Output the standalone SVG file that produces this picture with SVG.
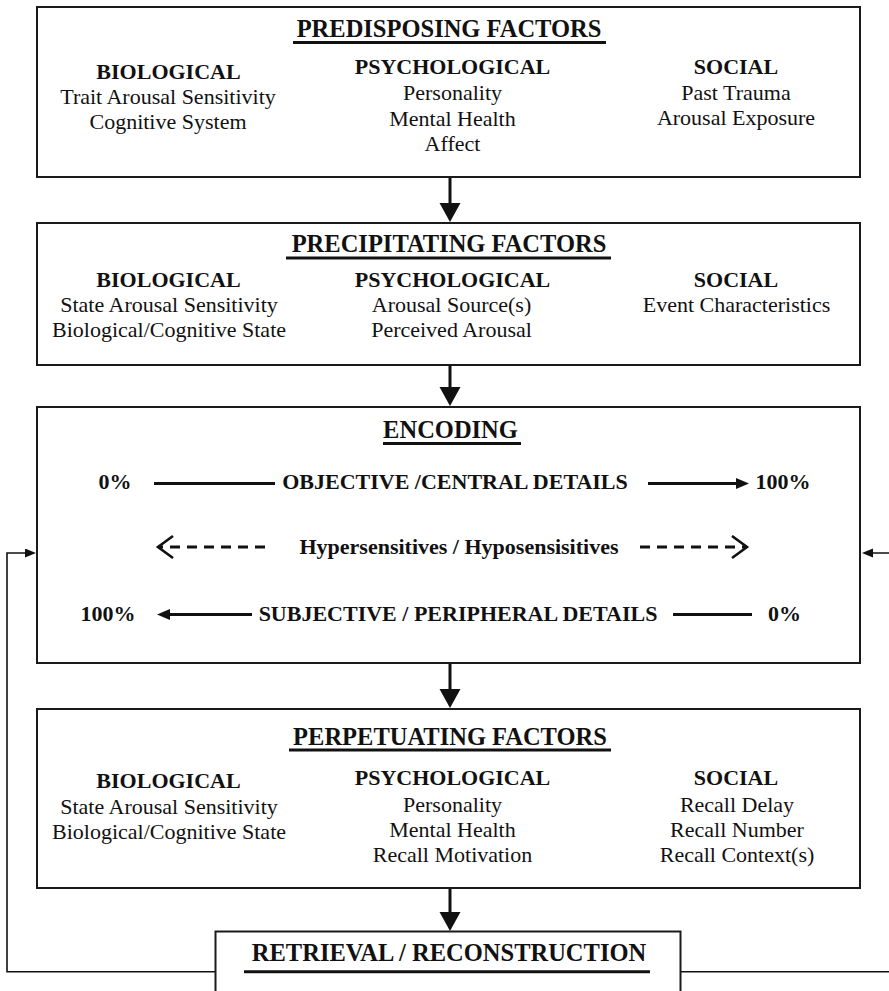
<svg xmlns="http://www.w3.org/2000/svg" width="889" height="991" viewBox="0 0 889 991">
<style>
.box{fill:#fff;stroke:#1a1a1a;stroke-width:2}
.t{font-family:"Liberation Serif","Times New Roman",serif;fill:#111;text-anchor:middle}
.title{font-size:24.5px;font-weight:bold}
.hd{font-size:22px;font-weight:bold}
.it{font-size:22px}
.ul{stroke:#111;stroke-width:3}
.conn{stroke:#111;stroke-width:3;fill:none}
.thin{stroke:#111;stroke-width:3;fill:none}
.dash{stroke:#111;stroke-width:3;fill:none;stroke-dasharray:10 7}
.fb{stroke:#111;stroke-width:1.6;fill:none}
</style>
<defs>
<marker id="big" markerUnits="userSpaceOnUse" markerWidth="20" markerHeight="22" refX="11" refY="10.5" orient="auto">
<path d="M0,0 L19,10.5 L0,21 z" fill="#111"/>
</marker>
<marker id="sm" markerUnits="userSpaceOnUse" markerWidth="14" markerHeight="12" refX="8" refY="5.5" orient="auto">
<path d="M0,0 L13,5.5 L0,11 z" fill="#111"/>
</marker>
<marker id="fa" markerUnits="userSpaceOnUse" markerWidth="12" markerHeight="10" refX="6" refY="4.5" orient="auto">
<path d="M0,0 L11,4.5 L0,9 z" fill="#111"/>
</marker>
<marker id="chev" markerUnits="userSpaceOnUse" markerWidth="20" markerHeight="28" refX="16" refY="12" orient="auto">
<path d="M1,1 L16,12 L1,23" fill="none" stroke="#111" stroke-width="2.6"/>
</marker>
</defs>

<g id="connectors">
<line class="conn" x1="450" y1="177" x2="450" y2="214" marker-end="url(#big)"/>
<line class="conn" x1="450" y1="365" x2="450" y2="398" marker-end="url(#big)"/>
<line class="conn" x1="450" y1="663" x2="450" y2="700" marker-end="url(#big)"/>
<line class="conn" x1="450" y1="888" x2="450" y2="923" marker-end="url(#big)"/>
<path class="fb" d="M216,971.7 H7 V553 H31" marker-end="url(#fa)"/>
<path class="fb" d="M680,971.7 H896 V553 H867" marker-end="url(#fa)"/>
</g>

<g id="predisposing">
<rect class="box" x="37" y="7" width="823" height="170"/>
<text class="t title" x="449" y="37">PREDISPOSING FACTORS</text>
<line class="ul" x1="293" y1="42.5" x2="606" y2="42.5"/>
<text class="t hd" x="168.5" y="79">BIOLOGICAL</text>
<text class="t it" x="168" y="104">Trait Arousal Sensitivity</text>
<text class="t it" x="168" y="129">Cognitive System</text>
<text class="t hd" x="452.5" y="74">PSYCHOLOGICAL</text>
<text class="t it" x="452.5" y="100">Personality</text>
<text class="t it" x="452.5" y="126">Mental Health</text>
<text class="t it" x="452.5" y="151">Affect</text>
<text class="t hd" x="736" y="74">SOCIAL</text>
<text class="t it" x="736" y="100">Past Trauma</text>
<text class="t it" x="736" y="125">Arousal Exposure</text>
</g>

<g id="precipitating">
<rect class="box" x="37" y="223" width="823" height="142"/>
<text class="t title" x="449" y="251.5">PRECIPITATING FACTORS</text>
<line class="ul" x1="286" y1="258" x2="611" y2="258"/>
<text class="t hd" x="168.5" y="286.7">BIOLOGICAL</text>
<text class="t it" x="169" y="311.7">State Arousal Sensitivity</text>
<text class="t it" x="169" y="336.7">Biological/Cognitive State</text>
<text class="t hd" x="452.5" y="286.7">PSYCHOLOGICAL</text>
<text class="t it" x="451.5" y="311.7">Arousal Source(s)</text>
<text class="t it" x="451.5" y="336.7">Perceived Arousal</text>
<text class="t hd" x="736" y="286.7">SOCIAL</text>
<text class="t it" x="736.5" y="311.7">Event Characteristics</text>
</g>

<g id="encoding">
<rect class="box" x="37" y="407" width="823" height="256"/>
<text class="t title" x="450.5" y="438">ENCODING</text>
<line class="ul" x1="383" y1="443.5" x2="521" y2="443.5"/>
<text class="t hd" x="115" y="488.5">0%</text>
<line class="thin" x1="154" y1="483.5" x2="275" y2="483.5"/>
<text class="t hd" x="455" y="488.5">OBJECTIVE /CENTRAL DETAILS</text>
<line class="thin" x1="648" y1="483.5" x2="744" y2="483.5" marker-end="url(#sm)"/>
<text class="t hd" x="783" y="488.5">100%</text>
<path class="dash" d="M265,547 H158" marker-end="url(#chev)"/>
<text class="t hd" x="459" y="554">Hypersensitives / Hyposensisitives</text>
<path class="dash" d="M640,547 H747" marker-end="url(#chev)"/>
<text class="t hd" x="108" y="620.5">100%</text>
<line class="thin" x1="252" y1="614.5" x2="162" y2="614.5" marker-end="url(#sm)"/>
<text class="t hd" x="458" y="620.5">SUBJECTIVE / PERIPHERAL DETAILS</text>
<line class="thin" x1="673" y1="614.5" x2="752" y2="614.5"/>
<text class="t hd" x="784.5" y="620.5">0%</text>
</g>

<g id="perpetuating">
<rect class="box" x="37" y="709" width="823" height="179"/>
<text class="t title" x="450" y="745">PERPETUATING FACTORS</text>
<line class="ul" x1="289" y1="750" x2="611" y2="750"/>
<text class="t hd" x="168.5" y="788.3">BIOLOGICAL</text>
<text class="t it" x="169" y="814.3">State Arousal Sensitivity</text>
<text class="t it" x="169" y="839.3">Biological/Cognitive State</text>
<text class="t hd" x="452.5" y="785">PSYCHOLOGICAL</text>
<text class="t it" x="452.5" y="811.7">Personality</text>
<text class="t it" x="452.5" y="836.7">Mental Health</text>
<text class="t it" x="452.5" y="861.7">Recall Motivation</text>
<text class="t hd" x="736" y="785">SOCIAL</text>
<text class="t it" x="737" y="811.7">Recall Delay</text>
<text class="t it" x="737" y="836.7">Recall Number</text>
<text class="t it" x="737" y="861.7">Recall Context(s)</text>
</g>

<g id="retrieval">
<rect class="box" x="215.5" y="931.5" width="465" height="100"/>
<text class="t title" x="449" y="961">RETRIEVAL / RECONSTRUCTION</text>
<line class="ul" x1="244" y1="971.7" x2="650" y2="971.7"/>
</g>
</svg>
